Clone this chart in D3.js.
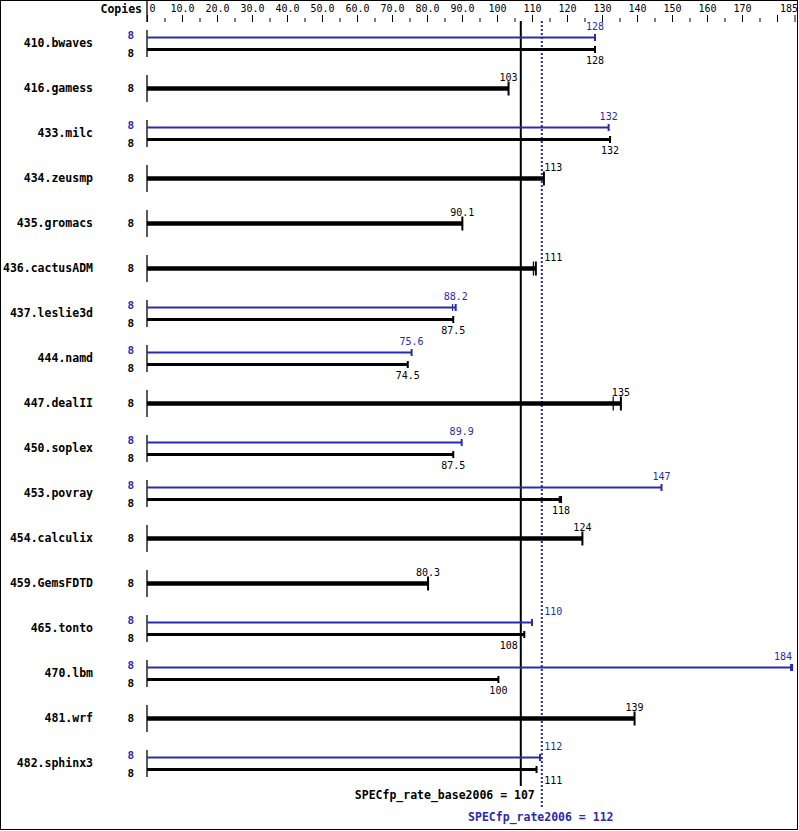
<!DOCTYPE html>
<html><head><meta charset="utf-8">
<script src="https://cdn.jsdelivr.net/npm/d3@7"></script>
<style>body{margin:0;background:#fff}</style>
</head><body>
<script>
const benchmarks = ["410.bwaves","416.gamess","433.milc","434.zeusmp","435.gromacs","436.cactusADM","437.leslie3d","444.namd","447.dealII","450.soplex","453.povray","454.calculix","459.GemsFDTD","465.tonto","470.lbm","481.wrf","482.sphinx3"];
const baseCopies = [8,8,8,8,8,8,8,8,8,8,8,8,8,8,8,8,8];
const peakCopies = [8,null,8,null,null,null,8,8,null,8,8,null,null,8,8,null,8];
const baseValues = [128,103.3,132.3,113.4,90.1,111.1,87.5,74.5,135.4,87.5,118.3,124.4,80.3,107.8,100.4,139.3,111.3];
const baseRuns = [[128],[103.3],[132.3],[113.4],[90.1],[110.4,111.1],[87.5],[74.5],[133.2,135.4],[87.5],[117.8,118.3],[124.4],[80.3],[107.8],[100.4],[139.3],[111.3]];
const peakValues = [128,null,131.9,null,null,null,88.2,75.6,null,89.9,147,null,null,110,184.3,null,112.3];
const peakRuns = [[128],null,[131.9],null,null,null,[87.3,88.2],[75.6],null,[89.9],[147],null,null,[110],[183.9,184.3],null,[112.3]];
const axisTicks = [0,10,20,30,40,50,60,70,80,90,100,110,120,130,140,150,160,170,180,185];
const axisTickLabels = ["0","10.0","20.0","30.0","40.0","50.0","60.0","70.0","80.0","90.0","100","110","120","130","140","150","160","170","","185"];
const minorTicks = [5,15,25,35,45,55,65,75,85,95,105,115,125,135,145,155,165,175];
const baseMean = 106.8, peakMean = 112.8;
const baseMeanLabel = "SPECfp_rate_base2006 = 107";
const peakMeanLabel = "SPECfp_rate2006 = 112";

const W = 799, H = 831;
const BLUE = "#2a2aad";
const FONT = "'DejaVu Sans Mono', 'Liberation Mono', monospace";
const fmt = d3.format(".3r");

const svg = d3.select("body").append("svg").attr("width", W).attr("height", H)
  .style("font-family", FONT);
svg.append("rect").attr("x",0).attr("y",0).attr("width",W).attr("height",H).attr("fill","#fff");
svg.append("rect").attr("x",0.5).attr("y",0.5).attr("width",797).attr("height",829)
  .attr("fill","none").attr("stroke","#000");

const x = d3.scaleLinear().domain([0,185]).range([147,794.5]);
const y = d3.scaleBand().domain(benchmarks).range([21,786]);
const cy = n => y(n) + y.bandwidth()/2;

// top axis
const axisY = 22;
const ax = d3.axisTop(x).tickValues(axisTicks).tickSize(7).tickPadding(3)
  .tickFormat((d,i) => axisTickLabels[i]);
const gA = svg.append("g").attr("transform", `translate(0,${axisY})`).call(ax);
gA.select(".domain").remove();
gA.selectAll("text").style("font-family", FONT).style("font-size","10px").attr("fill","#000");
gA.selectAll(".tick text").filter((d,i)=>i===0).attr("text-anchor","start").attr("dx", 2);
gA.selectAll(".tick text").filter((d,i)=>i===axisTicks.length-1).attr("text-anchor","end").attr("dx", 3);
const axm = d3.axisTop(x).tickValues(minorTicks).tickSize(4).tickFormat("");
const gM = svg.append("g").attr("transform", `translate(0,${axisY})`).call(axm);
gM.select(".domain").remove();
svg.append("line").attr("x1",x(0)).attr("x2",x(0)).attr("y1",0).attr("y2",axisY).attr("stroke","#000").attr("stroke-width",1.3);
svg.append("text").attr("x",142).attr("y",13).attr("text-anchor","end")
  .style("font-size","11.5px").style("font-weight","bold").text("Copies");

const xs = x(baseMean), xd = x(peakMean);
function placeLabel(endX, text) {
  const w = text.length * 6.02;
  let left = endX - w/2;
  const hits = l => [xs, xd].some(v => l < v + 2 && l + w > v - 2);
  if (hits(left)) {
    const candL = xs - 3 - w;
    const candR = xd + 2.5;
    left = Math.abs(candL - left) <= Math.abs(candR - left) ? candL : candR;
  }
  if (left + w > 796) left = endX - w;
  return left;
}

// reference lines
svg.append("line").attr("x1",xs).attr("x2",xs).attr("y1",21).attr("y2",786)
  .attr("stroke","#000").attr("stroke-width",2);
svg.append("line").attr("x1",xd).attr("x2",xd).attr("y1",21).attr("y2",807)
  .attr("stroke",BLUE).attr("stroke-width",2).attr("stroke-dasharray","2,2");

benchmarks.forEach((name, i) => {
  const c = cy(name);
  const g = svg.append("g");
  g.append("text").attr("x",93).attr("y",c+3.8).attr("text-anchor","end")
    .style("font-size","11.5px").style("font-weight","bold").text(name);
  g.append("line").attr("x1",x(0)).attr("x2",x(0)).attr("y1",c-13.5).attr("y2",c+13.5)
    .attr("stroke","#000").attr("stroke-width",1.3);
  const hasPeak = peakValues[i] != null;
  function drawBar(val, runs, yy, color, thick, capH, labelY, copies, copiesY) {
    g.append("line").attr("x1",x(0)).attr("x2",x(val)).attr("y1",yy).attr("y2",yy)
      .attr("stroke",color).attr("stroke-width",thick);
    runs.forEach(r => {
      g.append("line").attr("x1",x(r)).attr("x2",x(r)).attr("y1",yy-capH).attr("y2",yy+capH)
        .attr("stroke",color).attr("stroke-width", r === val ? 2 : 1.2);
    });
    const t = fmt(val);
    g.append("text").attr("x",placeLabel(x(val), t)).attr("y",labelY)
      .attr("fill",color).style("font-size","10px").text(t);
    g.append("text").attr("x",134).attr("y",copiesY).attr("text-anchor","end")
      .attr("fill",color).style("font-size","11px").style("font-weight","bold").text(copies);
  }
  if (hasPeak) {
    drawBar(peakValues[i], peakRuns[i], c-6, BLUE, 2, 3.5, c-13.5, peakCopies[i], c-4.5);
    drawBar(baseValues[i], baseRuns[i], c+6, "#000", 3, 3.5, c+20.5, baseCopies[i], c+13);
  } else {
    drawBar(baseValues[i], baseRuns[i], c, "#000", 4.5, 7, c-8, baseCopies[i], c+3.5);
  }
});

svg.append("text").attr("x",xd-7).attr("y",799).attr("text-anchor","end")
  .style("font-size","11.5px").style("font-weight","bold").text(baseMeanLabel);
svg.append("text").attr("x",xd-1).attr("y",821).attr("text-anchor","middle")
  .attr("fill",BLUE).style("font-size","11.5px").style("font-weight","bold").text(peakMeanLabel);
</script>
</body></html>
